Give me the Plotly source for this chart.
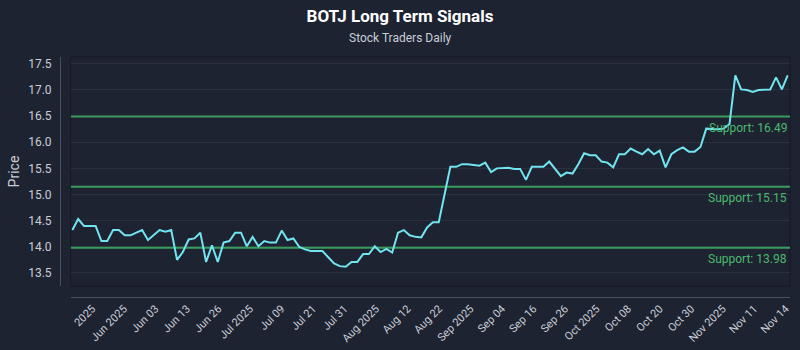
import numpy as np
import pandas as pd
import plotly.graph_objects as go

# ---- data -------------------------------------------------------------
holidays = ["2025-05-26", "2025-06-19", "2025-07-04", "2025-09-01"]
dates = pd.bdate_range("2025-05-21", "2025-11-14", freq="C", holidays=holidays)

prices = [
    14.32, 14.53, 14.40, 14.40, 14.40, 14.11, 14.11, 14.32, 14.32, 14.22,
    14.22, 14.27, 14.32, 14.13, 14.22, 14.32, 14.29, 14.32, 13.75, 13.90,
    14.14, 14.16, 14.27, 13.71, 14.03, 13.71, 14.08, 14.11, 14.27, 14.27,
    14.01, 14.19, 14.01, 14.11, 14.08, 14.08, 14.31, 14.13, 14.16, 14.00,
    13.95, 13.92, 13.92, 13.92, 13.80, 13.68, 13.63, 13.62, 13.71, 13.71,
    13.86, 13.86, 14.01, 13.90, 13.96, 13.89, 14.27, 14.32, 14.22, 14.19,
    14.18, 14.37, 14.47, 14.47, 15.00, 15.53, 15.53, 15.58, 15.58, 15.57,
    15.55, 15.61, 15.43, 15.50, 15.50, 15.51, 15.49, 15.49, 15.28, 15.53,
    15.53, 15.53, 15.63, 15.50, 15.35, 15.42, 15.40, 15.58, 15.79, 15.75,
    15.75, 15.63, 15.61, 15.52, 15.77, 15.77, 15.88, 15.82, 15.77, 15.87,
    15.77, 15.84, 15.52, 15.77, 15.85, 15.90, 15.82, 15.82, 15.91, 16.26,
    16.25, 16.25, 16.26, 16.35, 17.28, 17.01, 17.00, 16.96, 17.00, 17.01,
    17.01, 17.24, 17.01, 17.28,
]
dates = list(dates[-len(prices):])

tick_labels = [
    "2025", "Jun 2025", "Jun 03", "Jun 13", "Jun 26", "Jul 2025", "Jul 09",
    "Jul 21", "Jul 31", "Aug 2025", "Aug 12", "Aug 22", "Sep 2025", "Sep 04",
    "Sep 16", "Sep 26", "Oct 2025", "Oct 08", "Oct 20", "Oct 30", "Nov 2025",
    "Nov 11", "Nov 14",
]

support_levels = [16.49, 15.15, 13.98]

# ---- styling ------------------------------------------------------------
BG = "#1e2332"
LINE = "#72e4f0"
GREEN = "#3a9c5a"
GREEN_TXT = "#4cb86c"
TXT = "#c9cdd6"
GRID = "#2a3040"
AXLINE = "#4a4f5e"
FONT = "Roboto, Open Sans, sans-serif"

idx = list(range(len(prices)))
x_lo, x_hi = -0.28, len(prices) - 1 + 0.4
tickvals = list(np.linspace(3.44, len(prices) - 1.34, len(tick_labels)))

fig = go.Figure()

for lvl in support_levels:
    fig.add_trace(go.Scatter(
        x=[x_lo, x_hi], y=[lvl, lvl], mode="lines",
        line=dict(color=GREEN, width=2), hoverinfo="skip", showlegend=False,
    ))
    fig.add_annotation(xref="x domain", x=0.998, yref="y", y=lvl,
                       text=f"Support: {lvl:.2f}", showarrow=False,
                       xanchor="right", yanchor="top", yshift=-2,
                       font=dict(family=FONT, size=12, color=GREEN_TXT))

fig.add_trace(go.Scatter(
    x=idx, y=prices, mode="lines",
    line=dict(color=LINE, width=2),
    customdata=[d.strftime("%Y-%m-%d") for d in dates],
    hovertemplate="%{customdata}<br>%{y:.2f}<extra></extra>",
    showlegend=False,
))

# plot area border
fig.add_shape(type="rect", xref="x domain", yref="y domain", x0=0, x1=1, y0=0, y1=1,
              line=dict(color="#151925", width=1), layer="below")

fig.update_layout(
    width=800, height=350,
    paper_bgcolor=BG, plot_bgcolor=BG,
    margin=dict(l=60, r=10, t=57, b=53, autoexpand=False),
    font=dict(family=FONT, color=TXT, size=12),
    title=dict(text="<b>BOTJ Long Term Signals</b>", x=0.5, xref="container",
               xanchor="center", y=1 - 16 / 350, yanchor="middle", yref="container",
               font=dict(family=FONT, size=17, color="#ffffff")),
    xaxis=dict(domain=[0.0147, 1], anchor="free", position=0, automargin=False,
               range=[x_lo, x_hi],
               tickmode="array", tickvals=tickvals, ticktext=tick_labels,
               tickangle=-45, showgrid=False, zeroline=False,
               showline=True, linecolor=AXLINE, linewidth=1,
               tickfont=dict(size=11, color=TXT)),
    yaxis=dict(domain=[0.0458, 1], anchor="free", position=0, automargin=False,
               range=[13.25, 17.63], dtick=0.5, tickformat=".1f",
               showgrid=True, gridcolor=GRID, gridwidth=1, zeroline=False,
               showline=True, linecolor=AXLINE, linewidth=1,
               ticklabelstandoff=6,
               title=dict(text="Price", font=dict(size=14, color=TXT), standoff=4),
               tickfont=dict(size=12, color=TXT)),
)
fig.add_annotation(xref="paper", yref="paper", x=(400 - 60) / 730, y=1 + (57 - 38) / 240,
                   text="Stock Traders Daily", showarrow=False,
                   xanchor="center", yanchor="middle",
                   font=dict(family=FONT, size=12, color=TXT))

fig.write_html("out.html")
